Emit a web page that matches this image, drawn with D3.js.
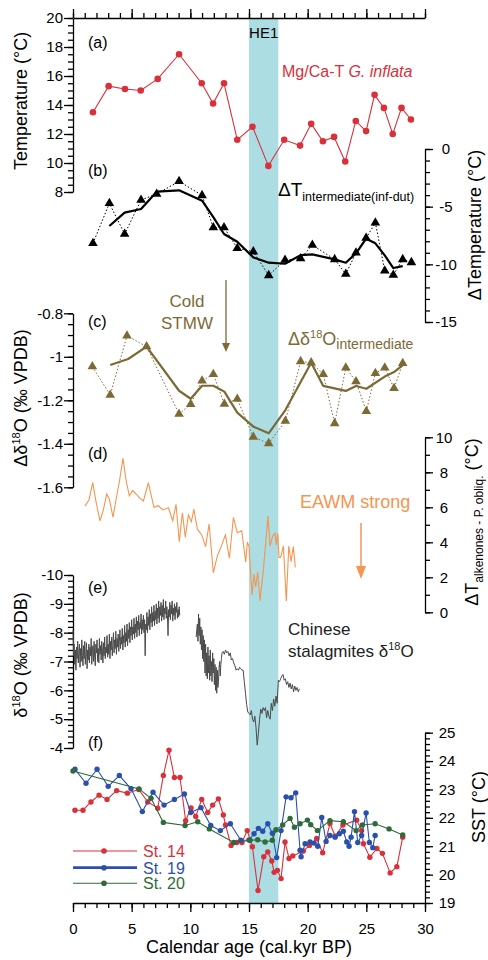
<!DOCTYPE html>
<html>
<head>
<meta charset="utf-8">
<script src="https://cdn.jsdelivr.net/npm/d3@7"></script>
<style>
  body { margin: 0; background: #fff; }
  svg { display: block; font-family: "Liberation Sans", Arial, Helvetica, sans-serif; }
  .axis text { font-size: 15px; fill: #000; }
  .axis path, .axis line { stroke: #000; stroke-width: 1.3; }
</style>
</head>
<body>
<svg id="chart" width="488" height="960"></svg>
<script>
// ---- data ----
// (a) Mg/Ca temperature G. inflata
const ageA  = [1.7,3.04,4.43,5.77,7.22,9.04,10.97,11.94,12.87,14.0,15.3,16.65,18.0,19.35,20.3,21.3,22.25,23.2,24.1,24.98,25.7,26.5,27.25,28.0,28.8];
const tempA = [13.5,15.3,15.1,15.0,15.8,17.5,15.5,14.1,15.5,11.6,12.5,9.8,11.6,11.2,12.7,11.5,11.8,10.1,12.9,12.2,14.7,13.8,12.0,13.8,13.0];

// (b) delta T intermediate, raw + smoothed
const ageB  = [1.7,3.1,4.4,5.8,7.13,9.04,11.0,11.96,12.87,14.0,15.37,16.68,18.07,19.4,20.4,22.3,23.25,24.12,24.98,25.77,26.57,27.3,28.1,28.84];
const dTB   = [-8.18,-4.71,-7.37,-4.42,-3.9,-2.8,-4.02,-6.8,-6.8,-8.6,-8.9,-10.96,-9.63,-9.5,-8.33,-9.57,-10.84,-8.99,-7.72,-6.39,-10.55,-10.93,-9.57,-9.83];
const ageBs = [3.1,4.4,5.8,7.13,9.04,11.0,11.96,12.87,14.0,15.37,16.68,18.07,19.4,20.4,22.3,23.25,24.12,24.98,25.77,26.57,27.3,28.1];
const dTBs  = [-6.68,-5.52,-5.2,-3.7,-3.58,-4.48,-5.9,-7.37,-8.04,-9.4,-9.86,-9.95,-9.2,-9.14,-9.57,-9.86,-9.04,-7.78,-8.18,-9.22,-10.32,-10.15];

// (c) delta d18O intermediate, raw + smoothed
const ageC  = [1.65,3.17,4.6,6.27,9.04,10.03,11.0,11.96,12.9,14.0,15.37,16.68,18.1,19.4,20.3,21.33,22.3,23.25,24.12,25.0,25.77,26.57,27.36,28.1];
const dOC   = [-1.045,-1.176,-0.903,-0.953,-1.263,-1.218,-1.11,-1.08,-1.217,-1.194,-1.369,-1.398,-1.295,-1.021,-1.027,-1.08,-1.306,-1.05,-1.114,-1.25,-1.076,-1.05,-1.145,-1.03];
const ageCs = [3.17,4.7,6.27,9.04,10.03,11.0,11.96,12.9,14.0,15.37,16.68,18.1,20.3,21.33,23.25,24.12,25.0,26.57,27.36,28.1];
const dOCs  = [-1.038,-1.01,-0.953,-1.156,-1.193,-1.133,-1.133,-1.16,-1.257,-1.321,-1.352,-1.245,-1.027,-1.134,-1.157,-1.134,-1.147,-1.091,-1.07,-1.038];

// (d) delta T alkenones - P. obliq.
const ageD = [1.02,1.36,1.68,1.96,2.3,2.59,2.87,3.1,3.41,3.67,3.95,4.26,4.52,4.8,5.08,5.37,5.71,6.0,6.42,6.9,7.27,7.65,8.13,8.5,8.78,9.06,9.32,9.57,9.83,10.09,10.3,10.6,10.97,11.3,11.6,11.96,12.3,12.68,12.99,13.33,13.67,14.0,14.38,14.72,14.86,15.0,15.26,15.43,15.57,15.74,15.94,16.22,16.45,16.62,16.79,17.02,17.22,17.33,17.45,17.56,17.7,17.93,18.18,18.39,18.59,18.78,18.95];
const dTD  = [6.07,6.42,7.41,6.32,5.22,5.85,6.76,6.46,5.43,6.46,7.46,8.8,7.56,6.66,6.95,6.76,6.51,6.36,7.41,6.0,6.09,5.85,5.98,5.23,6.17,4.03,5.69,4.29,5.56,5.18,5.89,4.75,4.42,3.75,5.05,2.26,3.22,3.85,4.42,3.09,5.43,4.55,4.66,2.87,4.02,3.75,0.99,2.19,1.43,2.32,0.66,2.38,4.17,5.5,3.79,4.36,4.51,3.85,4.51,3.14,3.14,3.79,0.65,3.79,2.89,3.75,2.57];

// (e) Chinese stalagmites d18O, two pieces
const stalAge1 = [
  0.00,0.05,0.10,0.15,0.20,0.25,0.30,0.35,0.40,0.45,0.50,0.55,0.60,0.65,0.70,0.75,0.80,0.85,0.90,0.95,
  1.00,1.05,1.10,1.15,1.20,1.25,1.30,1.35,1.40,1.45,1.50,1.55,1.60,1.65,1.70,1.75,1.80,1.85,1.90,1.95,
  2.00,2.05,2.10,2.15,2.20,2.25,2.30,2.35,2.40,2.45,2.50,2.55,2.60,2.65,2.70,2.75,2.80,2.85,2.90,2.95,
  3.00,3.05,3.10,3.15,3.20,3.25,3.30,3.35,3.40,3.45,3.50,3.55,3.60,3.65,3.70,3.75,3.80,3.85,3.90,3.95,
  4.00,4.05,4.10,4.15,4.20,4.25,4.30,4.35,4.40,4.45,4.50,4.55,4.60,4.65,4.70,4.75,4.80,4.85,4.90,4.95,
  5.00,5.05,5.10,5.15,5.20,5.25,5.30,5.35,5.40,5.45,5.50,5.55,5.60,5.65,5.70,5.75,5.80,5.85,5.90,5.95,
  6.00,6.05,6.10,6.15,6.20,6.25,6.30,6.35,6.40,6.45,6.50,6.55,6.60,6.65,6.70,6.75,6.80,6.85,6.90,6.95,
  7.00,7.05,7.10,7.15,7.20,7.25,7.30,7.35,7.40,7.45,7.50,7.55,7.60,7.65,7.70,7.75,7.80,7.85,7.90,7.95,
  8.00,8.05,8.10,8.15,8.20,8.25,8.30,8.35,8.40,8.45,8.50,8.55,8.60,8.65,8.70,8.75,8.80,8.85,8.90,8.95,
  9.00,9.05,9.10];
const stalD1 = [
  -8.1,-7.2,-7.6,-6.9,-7.4,-6.7,-7.5,-7.1,-7.7,-6.95,-7.35,-7.6,-6.8,-7.45,-7.0,-7.75,-7.2,-6.85,-7.55,-7.1,
  -7.7,-6.9,-7.3,-7.65,-6.75,-7.4,-7.05,-7.6,-6.95,-7.5,-7.2,-7.8,-6.9,-7.35,-7.55,-7.0,-7.7,-7.15,-6.85,-7.6,
  -7.3,-7.75,-7.0,-7.45,-6.95,-7.8,-7.25,-7.55,-7.05,-7.7,-7.4,-6.95,-7.65,-7.2,-7.85,-7.1,-7.5,-7.3,-7.9,-7.15,
  -7.6,-7.25,-7.95,-7.1,-7.7,-7.4,-7.85,-7.2,-7.6,-8.0,-7.3,-7.75,-7.45,-8.05,-7.25,-7.8,-7.5,-7.95,-7.35,-7.7,
  -8.1,-7.45,-7.85,-7.6,-8.15,-7.4,-7.9,-7.65,-8.25,-7.5,-8.0,-7.7,-8.3,-7.55,-8.1,-7.8,-8.35,-7.65,-8.2,-7.9,
  -8.45,-7.75,-8.2,-7.95,-8.5,-7.8,-8.3,-8.0,-8.55,-7.85,-8.4,-8.1,-8.6,-7.9,-8.35,-8.15,-8.65,-7.95,-8.45,-8.1,
  -8.6,-8.0,-8.45,-7.2,-8.3,-8.1,-8.7,-8.0,-8.55,-8.25,-8.8,-8.1,-8.65,-8.35,-8.9,-8.2,-8.7,-8.4,-8.95,-8.25,
  -8.75,-8.45,-9.0,-8.3,-8.85,-8.5,-9.1,-8.35,-8.9,-8.6,-9.05,-8.4,-8.95,-8.55,-9.15,-8.45,-8.85,-8.65,-9.1,-8.5,
  -8.9,-8.6,-7.9,-8.8,-8.55,-9.05,-8.45,-8.95,-8.65,-9.1,-8.4,-8.85,-8.6,-9.0,-8.45,-8.9,-8.7,-9.05,-8.5,-8.8,
  -8.55,-8.9,-8.6];
const stalAge2 = [10.5,10.55,10.6,10.65,10.7,10.75,10.8,10.85,10.9,10.95,11.0,11.05,11.1,11.15,11.2,11.25,11.3,11.35,11.4,11.45,11.5,11.55,11.6,11.65,11.7,11.75,11.8,11.85,11.9,11.95,12.0,12.05,12.1,12.15,12.2,12.25,12.3,12.35,12.4,12.45,12.5,12.55,12.6,12.65,12.7,12.8,12.9,13.0,13.1,13.2,13.3,13.4,13.5,13.6,13.7,13.8,13.9,14.0,14.1,14.2,14.3,14.4,14.5,14.6,14.7,14.8,14.9,15.0,15.1,15.2,15.3,15.4,15.5,15.6,15.7,15.8,15.9,16.0,16.1,16.2,16.3,16.4,16.5,16.6,16.7,16.8,16.9,17.0,17.1,17.2,17.3,17.4,17.5,17.6,17.7,17.8,17.9,18.0,18.1,18.2,18.3,18.4,18.5,18.6,18.7,18.8,18.9,19.0,19.1,19.2,19.3];
const stalD2 = [-7.85,-8.1,-8.3,-7.7,-8.65,-7.9,-8.5,-7.6,-8.2,-7.4,
  -8.1,-7.1,-7.9,-7.0,-7.75,-6.6,-7.6,-6.5,-7.3,-6.4,
  -7.5,-6.6,-7.2,-6.35,-7.4,-6.5,-7.0,-6.3,-7.3,-6.6,
  -7.1,-6.2,-6.9,-6.0,-6.8,-5.9,-6.7,-6.1,-6.3,-6.8,
  -7.0,-6.5,-6.9,-7.1,-7.3,-7.35,-7.25,-7.4,-7.3,-7.35,
  -7.2,-7.3,-7.05,-7.1,-6.95,-6.85,-6.7,-6.75,-6.7,-6.8,
  -6.75,-6.7,-6.7,-6.3,-5.9,-5.5,-5.25,-5.2,-5.15,-5.3,
  -5.0,-4.9,-5.1,-4.7,-4.1,-4.5,-5.0,-5.35,-5.2,-5.4,
  -5.3,-5.4,-5.05,-5.3,-5.1,-5.0,-5.55,-5.3,-5.7,-5.45,
  -5.8,-5.55,-6.35,-6.3,-6.4,-6.5,-6.55,-6.35,-6.4,-6.2,
  -6.3,-6.1,-6.25,-6.05,-6.2,-5.95,-6.15,-6.0,-6.1,-5.95,
  -6.05];

// (f) SST of three stations [age, SST]
const st14 = [[0.17,22.27],[0.85,22.27],[1.53,22.56],[2.22,22.8],[2.9,22.65],[3.72,22.96],[4.63,22.87],[5.6,23.0],[6.37,22.56],[7.22,22.34],[7.7,23.49],[8.18,24.38],[8.64,23.42],[9.12,23.42],[9.6,21.9],[10.06,22.35],[10.46,22.05],[10.97,22.65],[11.48,22.19],[11.9,22.45],[12.39,22.67],[12.81,22.1],[13.0,21.75],[13.47,21.03],[13.95,21.13],[14.4,21.13],[14.85,21.55],[15.29,20.98],[15.77,19.44],[16.26,20.63],[16.6,20.8],[16.94,20.48],[17.14,20.08],[17.42,20.15],[17.73,19.86],[18.07,21.15],[18.41,20.57],[18.73,20.66],[19.63,20.83],[20.15,21.03],[20.77,21.27],[21.28,20.77],[21.9,21.8],[22.35,21.35],[23.0,21.75],[24.18,21.92],[24.6,21.55],[24.75,21.09],[25.3,20.61],[25.9,20.92],[26.37,20.75],[27.03,20.06],[27.6,20.28],[28.1,21.32]];
const st19 = [[0.17,23.71],[1.11,23.22],[2.05,23.71],[3.0,23.11],[3.95,23.49],[4.94,23.03],[5.91,22.22],[6.82,22.9],[7.76,22.45],[8.64,22.65],[9.49,22.84],[10.03,22.19],[10.91,22.36],[11.74,21.73],[12.56,21.55],[13.41,21.79],[14.3,21.21],[15.0,21.22],[15.43,21.44],[15.8,21.63],[16.17,21.53],[16.6,21.79],[16.99,21.46],[17.36,20.6],[17.73,21.55],[18.16,22.74],[18.58,22.71],[18.98,22.88],[19.35,20.86],[19.44,20.63],[19.78,21.09],[20.2,21.15],[20.55,21.11],[20.86,21.0],[21.2,22.01],[21.57,21.17],[21.9,21.38],[22.34,21.32],[22.7,21.44],[23.04,21.53],[23.33,21.15],[23.53,21.0],[23.7,21.32],[23.99,22.22],[24.27,21.13],[24.6,21.38],[24.98,22.17],[25.26,21.13],[25.55,20.95],[25.75,21.38]];
const st20 = [[0.0,23.65],[5.63,23.02],[6.65,22.69],[7.7,21.84],[9.55,21.73],[10.63,21.86],[11.62,21.61],[13.7,21.13],[15.09,21.21],[15.74,21.23],[16.37,21.15],[16.99,21.21],[17.3,21.58],[17.87,21.75],[18.5,21.98],[18.87,21.67],[19.35,21.79],[19.98,21.92],[20.26,21.76],[20.83,21.55],[21.9,21.9],[23.04,21.86],[24.13,21.55],[24.66,21.75],[25.75,21.79],[26.94,21.61],[28.1,21.4]];

// tick labels
const ageTicks  = [0,5,10,15,20,25,30];
const tempTicks = [8,10,12,14,16,18,20];
const dTTicks   = [0,-5,-10,-15];
const dOTicks   = [-0.8,-1,-1.2,-1.4,-1.6];
const alkTicks  = [0,2,4,6,8,10];
const stalTicks = [-10,-9,-8,-7,-6,-5,-4];
const sstTicks  = [19,20,21,22,23,24,25];
const he1 = [15, 17.5];

// colours
const red = "#d9303a", blue = "#2a50ad", green = "#2e6a3a", olive = "#7c6a36",
      orange = "#f5954f", grey = "#4a4a4a", band = "#abdde3";

const svg = d3.select("#chart");

// scales - one shared x, one y per panel
const x  = d3.scaleLinear().domain([0, 30]).range([73, 425]);
const ya = d3.scaleLinear().domain([8, 20]).range([192, 18]);
const yb = d3.scaleLinear().domain([-15, 0]).range([322, 149]);
const yc = d3.scaleLinear().domain([-1.6, -0.8]).range([487.3, 313.3]);
const yd = d3.scaleLinear().domain([0, 10]).range([612.3, 437.3]);
const ye = d3.scaleLinear().domain([-10, -4]).range([575, 748]);
const yf = d3.scaleLinear().domain([19, 25]).range([903, 732.7]);

// HE1 band
svg.append("rect")
  .attr("x", x(he1[0])).attr("width", x(he1[1]) - x(he1[0]))
  .attr("y", 18).attr("height", 903 - 18)
  .attr("fill", band);
svg.append("text").attr("x", (x(he1[0]) + x(he1[1])) / 2).attr("y", 38)
  .attr("text-anchor", "middle").style("font-size", "15px").text("HE1");

// ---- helpers ----
function addAxis(gen, tx, ty) {
  return svg.append("g").attr("class", "axis")
    .attr("transform", `translate(${tx},${ty})`).call(gen);
}
function minor(gen, tx, ty) {
  addAxis(gen.tickSize(5).tickFormat(""), tx, ty).call(g => g.select(".domain").remove());
}
function rightLabels(g, dx) {
  g.selectAll(".tick text").attr("x", dx).attr("text-anchor", "middle");
}
const fmt = d => String(d);   // plain hyphen minus like the original

// ---- axes ----
// top and bottom age axes
addAxis(d3.axisTop(x).tickValues(ageTicks).tickSize(9).tickSizeOuter(0).tickFormat(""), 0, 18);
minor(d3.axisTop(x).tickValues(d3.range(0, 31, 1)), 0, 18);
addAxis(d3.axisBottom(x).tickValues(ageTicks).tickSize(9).tickPadding(11).tickSizeOuter(0).tickFormat(fmt), 0, 903);
minor(d3.axisBottom(x).tickValues(d3.range(0, 31, 1)), 0, 903);

// (a) left
addAxis(d3.axisLeft(ya).tickValues(tempTicks).tickSize(9).tickPadding(1).tickSizeOuter(0).tickFormat(fmt), 73, 0);
minor(d3.axisLeft(ya).tickValues(d3.range(8, 20.01, 0.5)), 73, 0);
// (b) right
addAxis(d3.axisRight(yb).tickValues(dTTicks).tickSize(8).tickSizeOuter(0).tickFormat(fmt), 425, 0)
  .call(g => rightLabels(g, 21));
minor(d3.axisRight(yb).tickValues(d3.range(-15, 0.01, 1)), 425, 0);
// (c) left
addAxis(d3.axisLeft(yc).tickValues(dOTicks).tickSize(9).tickPadding(1).tickSizeOuter(0).tickFormat(fmt), 73, 0);
minor(d3.axisLeft(yc).tickValues(d3.range(-1.6, -0.79, 0.05)), 73, 0);
// (d) right
addAxis(d3.axisRight(yd).tickValues(alkTicks).tickSize(8).tickSizeOuter(0).tickFormat(fmt), 425, 0)
  .call(g => rightLabels(g, 19));
minor(d3.axisRight(yd).tickValues(d3.range(0, 10.01, 1)), 425, 0);
// (e) left
addAxis(d3.axisLeft(ye).tickValues(stalTicks).tickSize(9).tickPadding(1).tickSizeOuter(0).tickFormat(fmt), 73, 0);
minor(d3.axisLeft(ye).tickValues(d3.range(-10, -3.99, 0.2)), 73, 0);
// (f) right
addAxis(d3.axisRight(yf).tickValues(sstTicks).tickSize(8).tickSizeOuter(0).tickFormat(fmt), 425, 0)
  .call(g => rightLabels(g, 22));
minor(d3.axisRight(yf).tickValues(d3.range(19, 25.01, 0.2)), 425, 0);

// ---- axis titles ----
function vTitle(tx, ty, build) {
  const t = svg.append("text").attr("transform", `translate(${tx},${ty}) rotate(-90)`)
    .attr("text-anchor", "middle").style("font-size", "18px");
  build(t);
  return t;
}
vTitle(27, 101, t => t.text("Temperature (°C)"));
vTitle(27, 398, t => {
  t.append("tspan").text("Δδ");
  t.append("tspan").attr("dy", -7).style("font-size", "11px").text("18");
  t.append("tspan").attr("dy", 7).text("O (‰ VPDB)");
});
vTitle(27, 655, t => {
  t.append("tspan").text("δ");
  t.append("tspan").attr("dy", -7).style("font-size", "11px").text("18");
  t.append("tspan").attr("dy", 7).text("O (‰ VPDB)");
});
vTitle(481, 225, t => t.text("ΔTemperature (°C)"));
vTitle(478, 522, t => {
  t.append("tspan").text("ΔT");
  t.append("tspan").attr("dy", 5).style("font-size", "12px").text("alkenones - P. obliq.");
  t.append("tspan").attr("dy", -5).text(" (°C)");
});
vTitle(485, 807, t => t.text("SST (°C)"));

svg.append("text").attr("x", x(15)).attr("y", 953).attr("text-anchor", "middle")
  .style("font-size", "18px").text("Calendar age (cal.kyr BP)");

// panel letters
[["(a)", 48], ["(b)", 176], ["(c)", 327], ["(d)", 459], ["(e)", 593], ["(f)", 748]].forEach(p => {
  svg.append("text").attr("x", 88).attr("y", p[1]).style("font-size", "16px").text(p[0]);
});

// ---- series ----
const tri = d3.symbol().type(d3.symbolTriangle).size(40);

// (a)
const dataA = ageA.map((a, i) => [a, tempA[i]]);
svg.append("path").datum(dataA)
  .attr("d", d3.line().x(d => x(d[0])).y(d => ya(d[1])))
  .attr("fill", "none").attr("stroke", red).attr("stroke-width", 1.1);
svg.selectAll(".ptA").data(dataA).join("circle").attr("class", "ptA")
  .attr("cx", d => x(d[0])).attr("cy", d => ya(d[1])).attr("r", 3.3).attr("fill", red);
const la = svg.append("text").attr("x", 282).attr("y", 77).attr("fill", red).style("font-size", "16px");
la.append("tspan").text("Mg/Ca-T ");
la.append("tspan").style("font-style", "italic").text("G. inflata");

// (b)
const dataB = ageB.map((a, i) => [a, dTB[i]]);
const dataBs = ageBs.map((a, i) => [a, dTBs[i]]);
svg.append("path").datum(dataB)
  .attr("d", d3.line().x(d => x(d[0])).y(d => yb(d[1])))
  .attr("fill", "none").attr("stroke", "#000").attr("stroke-width", 1).attr("stroke-dasharray", "1.5,2");
svg.append("path").datum(dataBs)
  .attr("d", d3.line().x(d => x(d[0])).y(d => yb(d[1])))
  .attr("fill", "none").attr("stroke", "#000").attr("stroke-width", 2.2).attr("stroke-linejoin", "round");
svg.selectAll(".ptB").data(dataB).join("path").attr("class", "ptB")
  .attr("d", tri).attr("transform", d => `translate(${x(d[0])},${yb(d[1])})`).attr("fill", "#000");
const lb = svg.append("text").attr("x", 278).attr("y", 196).style("font-size", "19px");
lb.append("tspan").text("ΔT");
lb.append("tspan").attr("dy", 5).style("font-size", "12.5px").text("intermediate(inf-dut)");

// (c)
const dataC = ageC.map((a, i) => [a, dOC[i]]);
const dataCs = ageCs.map((a, i) => [a, dOCs[i]]);
svg.append("path").datum(dataC)
  .attr("d", d3.line().x(d => x(d[0])).y(d => yc(d[1])))
  .attr("fill", "none").attr("stroke", olive).attr("stroke-width", 1).attr("stroke-dasharray", "1.5,2");
svg.append("path").datum(dataCs)
  .attr("d", d3.line().x(d => x(d[0])).y(d => yc(d[1])))
  .attr("fill", "none").attr("stroke", olive).attr("stroke-width", 2.2).attr("stroke-linejoin", "round");
svg.selectAll(".ptC").data(dataC).join("path").attr("class", "ptC")
  .attr("d", tri).attr("transform", d => `translate(${x(d[0])},${yc(d[1])})`).attr("fill", olive);
const lc = svg.append("text").attr("x", 288).attr("y", 345).attr("fill", olive).style("font-size", "18px");
lc.append("tspan").text("Δδ");
lc.append("tspan").attr("dy", -7).style("font-size", "11px").text("18");
lc.append("tspan").attr("dy", 7).text("O");
lc.append("tspan").attr("dy", 4).style("font-size", "14px").text("intermediate");

// Cold STMW arrow
svg.append("text").attr("x", 187).attr("y", 307).attr("text-anchor", "middle").attr("fill", olive)
  .style("font-size", "17px").text("Cold");
svg.append("text").attr("x", 187).attr("y", 329).attr("text-anchor", "middle").attr("fill", olive)
  .style("font-size", "17px").text("STMW");
svg.append("line").attr("x1", 226).attr("x2", 226).attr("y1", 280).attr("y2", 345)
  .attr("stroke", olive).attr("stroke-width", 1.3);
svg.append("path").attr("d", "M222,343 L230,343 L226,352 Z").attr("fill", olive);

// (d)
const dataD = ageD.map((a, i) => [a, dTD[i]]);
svg.append("path").datum(dataD)
  .attr("d", d3.line().x(d => x(d[0])).y(d => yd(d[1])))
  .attr("fill", "none").attr("stroke", orange).attr("stroke-width", 1.1);
svg.append("text").attr("x", 300).attr("y", 508).attr("fill", orange).style("font-size", "18px").text("EAWM strong");
svg.append("line").attr("x1", 361).attr("x2", 361).attr("y1", 523).attr("y2", 568)
  .attr("stroke", orange).attr("stroke-width", 1.5);
svg.append("path").attr("d", "M356,566 L366,566 L361,579 Z").attr("fill", orange);

// (e)
const lineE = d3.line().x(d => x(d[0])).y(d => ye(d[1]));
[stalAge1.map((a, i) => [a, stalD1[i]]), stalAge2.map((a, i) => [a, stalD2[i]])].forEach(seg => {
  svg.append("path").datum(seg).attr("d", lineE)
    .attr("fill", "none").attr("stroke", grey).attr("stroke-width", 1);
});
svg.append("text").attr("x", 288).attr("y", 635).attr("fill", "#222").style("font-size", "17px").text("Chinese");
const le = svg.append("text").attr("x", 288).attr("y", 657).attr("fill", "#222").style("font-size", "17px");
le.append("tspan").text("stalagmites δ");
le.append("tspan").attr("dy", -7).style("font-size", "11px").text("18");
le.append("tspan").attr("dy", 7).text("O");

// (f)
const lineF = d3.line().x(d => x(d[0])).y(d => yf(d[1]));
const stations = [
  { name: "St. 14", data: st14, color: red,   legW: 1.1, ly: 851 },
  { name: "St. 19", data: st19, color: blue,  legW: 2.8, ly: 867.7 },
  { name: "St. 20", data: st20, color: green, legW: 1.1, ly: 883.3 }
];
stations.forEach((s, k) => {
  svg.append("path").datum(s.data).attr("d", lineF)
    .attr("fill", "none").attr("stroke", s.color).attr("stroke-width", 1.1);
  svg.selectAll(".ptF" + k).data(s.data).join("circle").attr("class", "ptF" + k)
    .attr("cx", d => x(d[0])).attr("cy", d => yf(d[1])).attr("r", 2.7).attr("fill", s.color);
  // legend
  svg.append("line").attr("x1", 73).attr("x2", 137).attr("y1", s.ly).attr("y2", s.ly)
    .attr("stroke", s.color).attr("stroke-width", s.legW);
  svg.append("circle").attr("cx", 104).attr("cy", s.ly).attr("r", 2.8).attr("fill", s.color);
  svg.append("text").attr("x", 143).attr("y", s.ly + 6).attr("fill", s.color)
    .style("font-size", "16px").text(s.name);
});
</script>
</body>
</html>
